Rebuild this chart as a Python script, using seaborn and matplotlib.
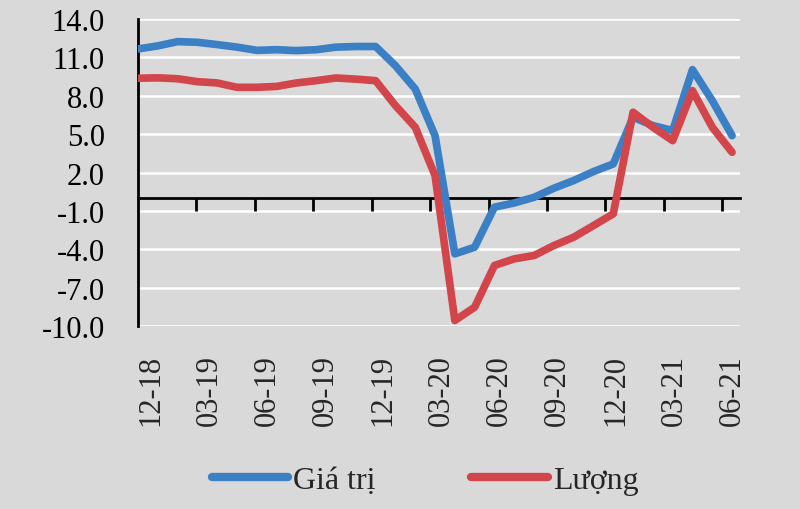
import matplotlib
matplotlib.use("Agg")
import matplotlib.pyplot as plt
import seaborn as sns
import numpy as np
import pandas as pd

months = ["12-18", "01-19", "02-19", "03-19", "04-19", "05-19", "06-19", "07-19",
          "08-19", "09-19", "10-19", "11-19", "12-19", "01-20", "02-20", "03-20",
          "04-20", "05-20", "06-20", "07-20", "08-20", "09-20", "10-20", "11-20",
          "12-20", "01-21", "02-21", "03-21", "04-21", "05-21", "06-21"]
gia_tri = [11.66, 11.9, 12.23, 12.18, 12.0, 11.8, 11.55, 11.6, 11.53, 11.6, 11.8,
           11.85, 11.85, 10.35, 8.53, 4.88, -4.36, -3.84, -0.71, -0.38, 0.06, 0.77,
           1.37, 2.07, 2.67, 6.32, 5.67, 5.28, 10.04, 7.62, 4.88]
luong = [9.37, 9.4, 9.33, 9.1, 9.0, 8.66, 8.66, 8.73, 9.0, 9.18, 9.39, 9.3, 9.18,
         7.23, 5.54, 1.76, -9.57, -8.53, -5.27, -4.75, -4.49, -3.71, -3.06, -2.15,
         -1.23, 6.71, 5.54, 4.49, 8.4, 5.54, 3.58]
series_names = ["Giá trị", "Lượng"]
yticks = [-10.0, -7.0, -4.0, -1.0, 2.0, 5.0, 8.0, 11.0, 14.0]

sns.set_theme(style="white")
plt.rcParams['font.family'] = ['Liberation Serif', 'DejaVu Serif']
plt.rcParams['axes.unicode_minus'] = False

bg = "#d9d9d9"
colors = {"Giá trị": "#3b7fc4", "Lượng": "#d2454b"}

n = len(months)
df = pd.DataFrame({
    "idx": list(range(n)) * 2,
    "value": gia_tri + luong,
    "series": [series_names[0]] * n + [series_names[1]] * n,
})

fig = plt.figure(figsize=(8, 5.1), dpi=100, facecolor=bg)
ax = fig.add_axes([138 / 800, 1 - 327 / 510, (740 - 138) / 800, (327 - 20) / 510])
ax.set_facecolor(bg)

for y in yticks:
    ax.axhline(y, color="white", lw=1.8, zorder=0)

sns.lineplot(data=df, x="idx", y="value", hue="series", palette=colors,
             linewidth=5.5, ax=ax, legend=False, zorder=3)

ax.set_xlim(0, 30.4)
ax.set_ylim(-10, 14)
ax.set_yticks(yticks)
ax.set_yticklabels([f"{v:.1f}" for v in yticks])
ax.tick_params(axis="y", length=0, pad=24, labelsize=22, colors="black")
ax.set_xlabel("")
ax.set_ylabel("")

for s in ["top", "right"]:
    ax.spines[s].set_visible(False)
ax.spines["left"].set_color("black")
ax.spines["left"].set_linewidth(2)
ax.spines["bottom"].set_position(("data", 0))
ax.spines["bottom"].set_color("black")
ax.spines["bottom"].set_linewidth(2)
ax.spines["bottom"].set_zorder(2)

tick_marks = np.arange(3, n, 3) * (29.5 / 30)
ax.set_xticks(tick_marks)
ax.set_xticklabels([])
ax.tick_params(axis="x", direction="out", length=9, width=2, color="black", bottom=True)

label_idx = list(range(0, n, 3))
label_pos = np.linspace(0.65, 30, len(label_idx))
sec = ax.secondary_xaxis(0)
sec.set_xticks(label_pos)
sec.set_xticklabels([months[i] for i in label_idx], rotation=90, fontsize=22)
sec.tick_params(length=0, pad=20)
sec.spines["bottom"].set_visible(False)

from matplotlib.lines import Line2D
handles = [Line2D([0], [0], color=colors[s], lw=6, solid_capstyle="round") for s in series_names]
fig.legend(handles, series_names, loc="center", bbox_to_anchor=(425 / 800, 1 - 481 / 510),
           ncol=2, frameon=False, fontsize=23, handlelength=2.4, handletextpad=0.15,
           columnspacing=3.0)

fig.savefig("out.png", dpi=100, facecolor=bg)
